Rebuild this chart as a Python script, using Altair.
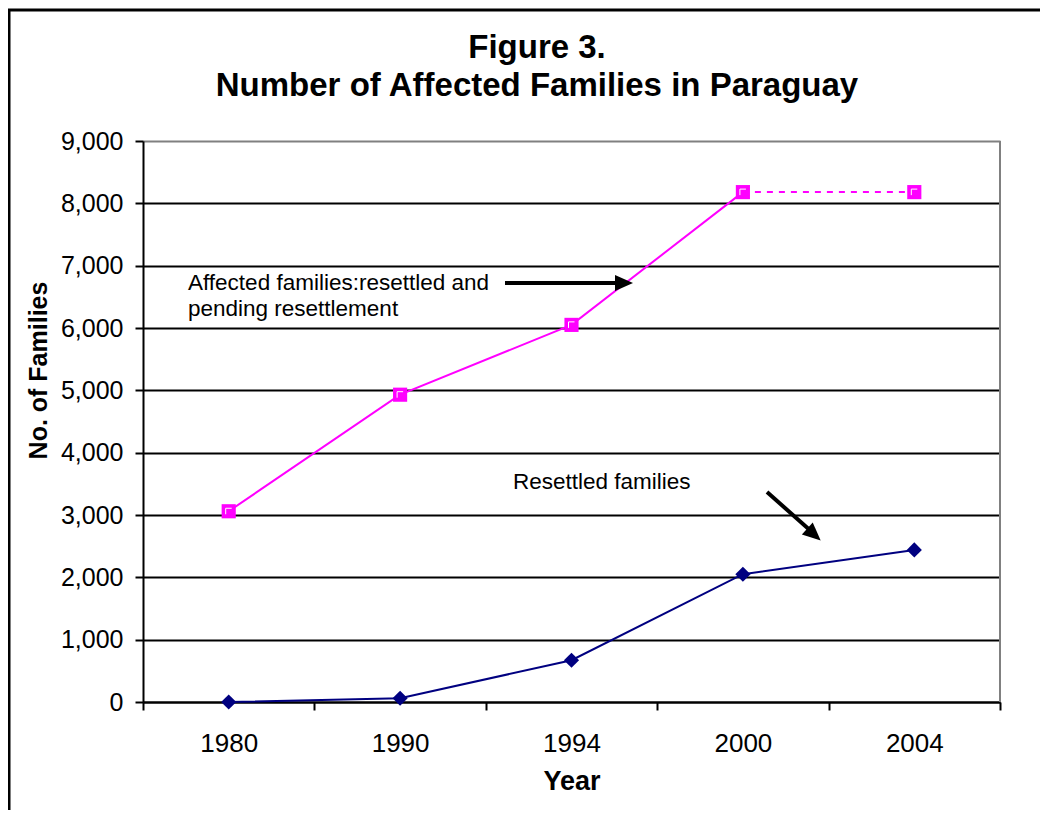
import altair as alt
import pandas as pd

years = ["1980", "1990", "1994", "2000", "2004"]
affected = [3060, 4930, 6050, 8180, 8180]
resettled = [0, 60, 670, 2050, 2440]
y_ticks = [0, 1000, 2000, 3000, 4000, 5000, 6000, 7000, 8000, 9000]

title_lines = ["Figure 3.", "Number of Affected Families in Paraguay"]
note_affected = ["Affected families:resettled and", "pending resettlement"]
note_resettled = "Resettled families"

FONT = "Liberation Sans"
MAGENTA = "#FF00FF"
NAVY = "#000080"
ARROW_HEAD = "M1,0L-1,-0.9L-1,0.9Z"

df_aff = pd.DataFrame({"year": years, "value": affected})
df_res = pd.DataFrame({"year": years, "value": resettled})
df_aff_solid = df_aff.iloc[:4]
df_aff_dash = df_aff.iloc[3:]

xscale = alt.Scale(type="band", domain=years, paddingInner=0, paddingOuter=0)
yscale = alt.Scale(domain=[0, 9000], nice=False)

x_axis = alt.Axis(
    title="Year", labelFont=FONT, labelFontSize=26, labelColor="black",
    titleFont=FONT, titleFontSize=27, titleFontWeight="bold", titleColor="black",
    tickBand="extent", tickColor="black", tickWidth=2, tickSize=8,
    domainColor="black", domainWidth=2, labelPadding=20, titlePadding=12,
    grid=False, labelAngle=0,
)
y_axis = alt.Axis(
    title="No. of Families", values=y_ticks, format=",d",
    labelFont=FONT, labelFontSize=25, labelColor="black", labelPadding=12,
    titleFont=FONT, titleFontSize=25, titleFontWeight="bold", titleColor="black",
    titleAngle=-90, titleX=-105, titleY=229, titleAlign="center", titleBaseline="middle",
    tickColor="black", tickWidth=2, tickSize=8,
    domainColor="black", domainWidth=2,
    grid=True, gridWidth=2,
    gridColor=alt.condition(alt.datum.value == 9000, alt.value("#808080"), alt.value("black")),
)

X = alt.X("year:O", scale=xscale, axis=x_axis, bandPosition=0.5, sort=years)
Y = alt.Y("value:Q", scale=yscale, axis=y_axis)

aff_line = alt.Chart(df_aff_solid).mark_line(color=MAGENTA, strokeWidth=2).encode(x=X, y=Y)
aff_dash = alt.Chart(df_aff_dash).mark_line(color=MAGENTA, strokeWidth=2, strokeDash=[6, 6]).encode(x=X, y=Y)
aff_pts = alt.Chart(df_aff).mark_point(shape="square", filled=True, color=MAGENTA, size=200, opacity=1).encode(x=X, y=Y)
aff_inner = alt.Chart(df_aff).mark_point(shape="M-0.6,0.6L-0.6,-0.6L0.6,-0.6", filled=False, color="white", size=100, strokeWidth=1, opacity=1).encode(x=X, y=Y)

res_line = alt.Chart(df_res).mark_line(color=NAVY, strokeWidth=2).encode(x=X, y=Y)
res_pts = alt.Chart(df_res).mark_point(shape="diamond", filled=True, color=NAVY, size=230, opacity=1).encode(x=X, y=Y)

anno_base = alt.Chart(pd.DataFrame({"a": [0]}))

title1 = anno_base.mark_text(text=title_lines[0], font=FONT, fontSize=33, fontWeight="bold", align="center", baseline="alphabetic", color="black").encode(x=alt.value(394), y=alt.value(-83))
title2 = anno_base.mark_text(text=title_lines[1], font=FONT, fontSize=33, fontWeight="bold", align="center", baseline="alphabetic", color="black").encode(x=alt.value(394), y=alt.value(-45))

t1 = anno_base.mark_text(text=note_affected[0], font=FONT, fontSize=22.5, align="left", baseline="alphabetic", color="black").encode(x=alt.value(45), y=alt.value(149))
t2 = anno_base.mark_text(text=note_affected[1], font=FONT, fontSize=22.5, align="left", baseline="alphabetic", color="black").encode(x=alt.value(45), y=alt.value(175))
t3 = anno_base.mark_text(text=note_resettled, font=FONT, fontSize=22.5, align="left", baseline="alphabetic", color="black").encode(x=alt.value(370), y=alt.value(348))

arrow1 = anno_base.mark_rule(color="black", strokeWidth=4).encode(x=alt.value(362), x2=alt.value(476), y=alt.value(142))
head1 = anno_base.mark_point(shape=ARROW_HEAD, filled=True, color="black", size=324, opacity=1).encode(x=alt.value(481), y=alt.value(142))
arrow2 = anno_base.mark_rule(color="black", strokeWidth=4).encode(x=alt.value(624), x2=alt.value(669), y=alt.value(351), y2=alt.value(391))
head2 = anno_base.mark_point(shape=ARROW_HEAD, filled=True, color="black", size=324, opacity=1, angle=42).encode(x=alt.value(671), y=alt.value(393.5))

border_top = anno_base.mark_rule(color="black", strokeWidth=3).encode(x=alt.value(-135), x2=alt.value(900), y=alt.value(-131))
border_left = anno_base.mark_rule(color="black", strokeWidth=3).encode(x=alt.value(-134), y=alt.value(-132), y2=alt.value(700))
border_right = anno_base.mark_rule(color="#808080", strokeWidth=2).encode(x=alt.value(857), y=alt.value(0), y2=alt.value(561))

chart = alt.layer(
    border_right, aff_line, aff_dash, res_line, res_pts, aff_pts, aff_inner,
    title1, title2, t1, t2, t3, arrow1, head1, arrow2, head2, border_top, border_left,
).properties(
    width=857, height=561,
    autosize=alt.AutoSizeParams(type="none"),
    padding={"left": 135, "top": 133, "right": 40, "bottom": 108},
).configure_view(stroke=None).configure(background="white")

chart.save("out.html", embed_options={"renderer": "svg", "actions": False})
